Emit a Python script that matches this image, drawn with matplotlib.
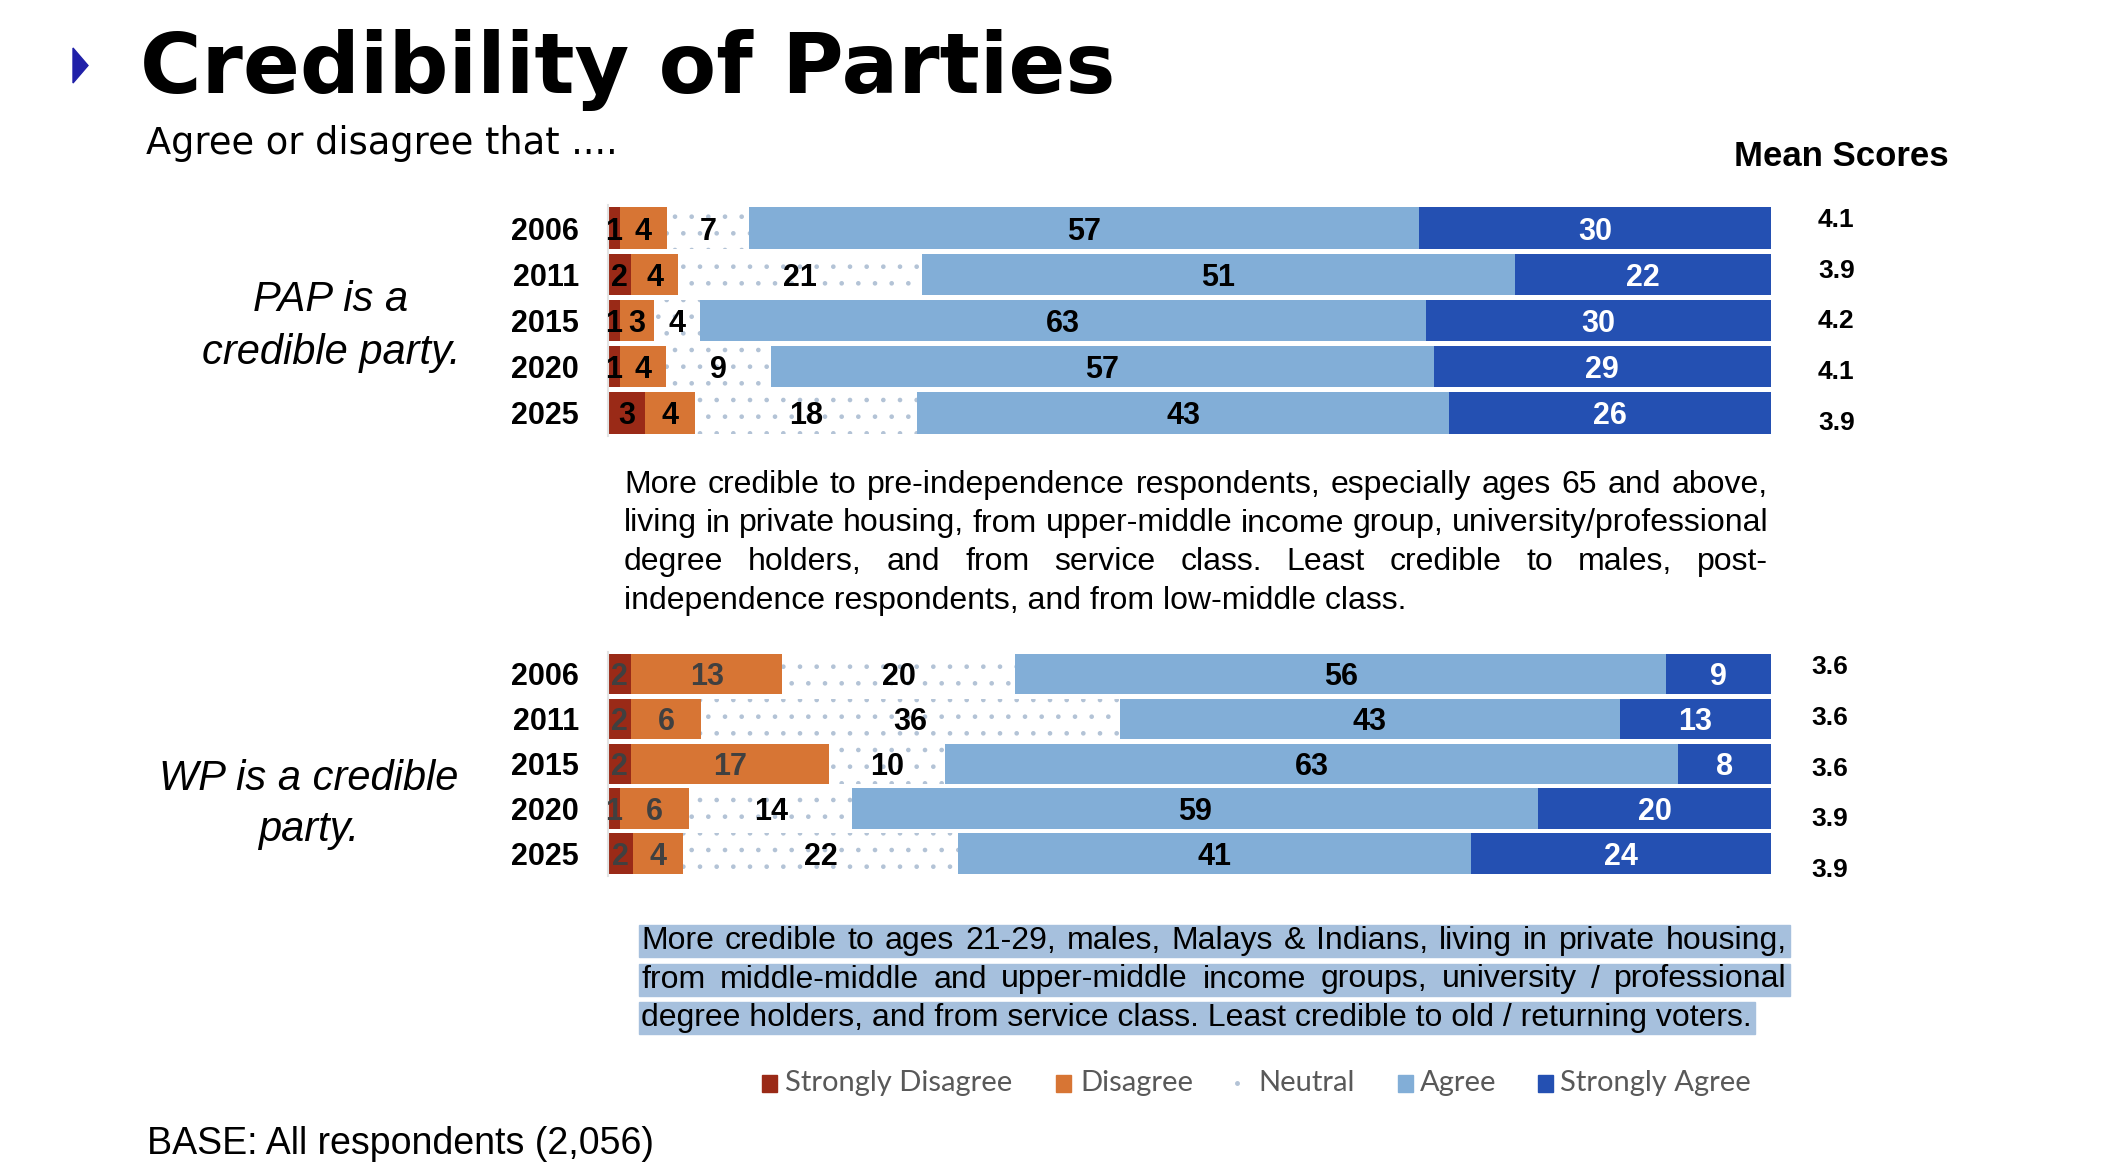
import numpy as np
import matplotlib.pyplot as plt
from matplotlib.patches import Rectangle, Polygon

W, H = 2102, 1174

years = ['2006', '2011', '2015', '2020', '2025']
categories = ['Strongly Disagree', 'Disagree', 'Neutral', 'Agree', 'Strongly Agree']

pap_sd = [1, 2, 1, 1, 3]
pap_d = [4, 4, 3, 4, 4]
pap_n = [7, 21, 4, 9, 18]
pap_a = [57, 51, 63, 57, 43]
pap_sa = [30, 22, 30, 29, 26]
pap_mean = [4.1, 3.9, 4.2, 4.1, 3.9]

wp_sd = [2, 2, 2, 1, 2]
wp_d = [13, 6, 17, 6, 4]
wp_n = [20, 36, 10, 14, 22]
wp_a = [56, 43, 63, 59, 41]
wp_sa = [9, 13, 8, 20, 24]
wp_mean = [3.6, 3.6, 3.6, 3.9, 3.9]

pap_note = [
    "More credible to pre-independence respondents, especially ages 65 and above,",
    "living in private housing, from upper-middle income group, university/professional",
    "degree holders, and from service class. Least credible to males, post-",
    "independence respondents, and from low-middle class.",
]
wp_note = [
    "More credible to ages 21-29, males, Malays & Indians, living in private housing,",
    "from middle-middle and upper-middle income groups, university / professional",
    "degree holders, and from service class. Least credible to old / returning voters.",
]

colors = ['#9A2A17', '#D77534', 'white', '#82AED7', '#2450B2']
dot_color = '#B3C3D6'
arial = 'Liberation Sans'

plt.rcParams['hatch.linewidth'] = 0.9

fig = plt.figure(figsize=(W / 100, H / 100), dpi=100)


def px(x, y):
    return x / W, 1 - y / H


def draw_stack(rect, series, lab_colors):
    ax = fig.add_axes(rect)
    vals = np.array(series, dtype=float)
    share = vals / vals.sum(axis=0) * 100
    y = np.arange(len(years))
    left = np.zeros(len(years))
    for k in range(len(categories)):
        if k == 2:
            ax.barh(y, share[k], left=left, height=0.9, color='white',
                    hatch='.', edgecolor=dot_color, linewidth=0)
        else:
            ax.barh(y, share[k], left=left, height=0.9, color=colors[k], linewidth=0)
        for j in range(len(years)):
            ax.text(left[j] + share[k][j] / 2, j, str(series[k][j]), ha='center',
                    va='center_baseline', fontsize=22, fontweight='bold', family=arial,
                    color=lab_colors[k])
        left += share[k]
    ax.set_xlim(0, 100)
    ax.set_ylim(4.5, -0.5)
    ax.set_xticks([])
    ax.set_yticks(y, years)
    ax.tick_params(axis='y', length=0, pad=21)
    for t in ax.get_yticklabels():
        t.set_fontsize(22)
        t.set_fontweight('bold')
        t.set_family(arial)
        t.set_verticalalignment('center_baseline')
    for s in ['top', 'right', 'bottom']:
        ax.spines[s].set_visible(False)
    ax.spines['left'].set_color('#E3E3E3')
    ax.spines['left'].set_linewidth(1.5)
    return ax


draw_stack([608 / W, 1 - 436 / H, 1163 / W, 231 / H],
           [pap_sd, pap_d, pap_n, pap_a, pap_sa],
           ['black', 'black', 'black', 'black', 'white'])
draw_stack([608 / W, 1 - 876 / H, 1163 / W, 224.5 / H],
           [wp_sd, wp_d, wp_n, wp_a, wp_sa],
           ['#404040', '#404040', 'black', 'black', 'white'])

# title area
fig.patches.append(Polygon([px(73, 48), px(73, 83), px(88, 65.5)], closed=True,
                           transform=fig.transFigure, color='#2020A8'))
fig.text(*px(140, 70), 'Credibility of Parties', fontsize=60.5, fontweight='bold',
         family='DejaVu Sans', va='center', ha='left')
fig.text(*px(146, 143), 'Agree or disagree that ....', fontsize=26.5,
         family='DejaVu Sans', va='center', ha='left')

# mean scores
fig.text(*px(1734, 157), 'Mean Scores', fontsize=25, fontweight='bold',
         family=arial, va='center', ha='left')
for i, m in enumerate(pap_mean):
    fig.text(*px(1818, 220 + i * 50.75), f'{m:.1f}', fontsize=19, fontweight='bold',
             family=arial, va='center', ha='left')
for i, m in enumerate(wp_mean):
    fig.text(*px(1811, 667 + i * 50.75), f'{m:.1f}', fontsize=19, fontweight='bold',
             family=arial, va='center', ha='left')

# statements
fig.text(*px(331, 300), 'PAP is a', fontsize=30, style='italic', family=arial,
         ha='center', va='center')
fig.text(*px(331, 353), 'credible party.', fontsize=30, style='italic', family=arial,
         ha='center', va='center')
fig.text(*px(309, 779), 'WP is a credible', fontsize=30, style='italic', family=arial,
         ha='center', va='center')
fig.text(*px(309, 830), 'party.', fontsize=30, style='italic', family=arial,
         ha='center', va='center')

renderer = fig.canvas.get_renderer()


def justify(lines, x0, x1, y0, dy, size):
    ends = []
    for i, line in enumerate(lines):
        y = y0 + i * dy
        if i == len(lines) - 1:
            t = fig.text(*px(x0, y), line, fontsize=size, family=arial, va='center', ha='left')
            ends.append(x0 + t.get_window_extent(renderer).width)
            continue
        words = line.split()
        texts = [fig.text(*px(x0, y), w, fontsize=size, family=arial, va='center', ha='left')
                 for w in words]
        widths = [t.get_window_extent(renderer).width for t in texts]
        gap = (x1 - x0 - sum(widths)) / (len(words) - 1)
        x = x0
        for t, w in zip(texts, widths):
            t.set_x(x / W)
            x += w + gap
        ends.append(x1)
    return ends


justify(pap_note, 624, 1768, 485, 38.5, 23)

# highlighted WP note
ends = justify(wp_note, 641, 1787, 941, 38.5, 23)
for i, x_end in enumerate(ends):
    fig.patches.append(Rectangle(px(639, 957 + i * 38.5), (x_end + 3 - 639) / W, 32 / H,
                                 transform=fig.transFigure, color='#A6C0DD', zorder=0))

# legend
leg_sq = [762, 1056, None, 1398, 1538]
leg_tx = [785, 1080, 1258, 1420, 1560]
for k, cat in enumerate(categories):
    if k == 2:
        fig.lines.append(plt.Line2D([1237 / W], [1 - 1083 / H], marker='o', markersize=2.5,
                                    color=dot_color, transform=fig.transFigure))
    else:
        fig.patches.append(Rectangle(px(leg_sq[k], 1092), 15 / W, 17 / H,
                                     transform=fig.transFigure, color=colors[k]))
    fig.text(*px(leg_tx[k], 1083), cat, fontsize=21, family='Lato', color='#595959',
             va='center', ha='left')

fig.text(*px(147, 1144), 'BASE: All respondents (2,056)', fontsize=27, family=arial,
         va='center', ha='left')

fig.savefig('out.png', dpi=100)
